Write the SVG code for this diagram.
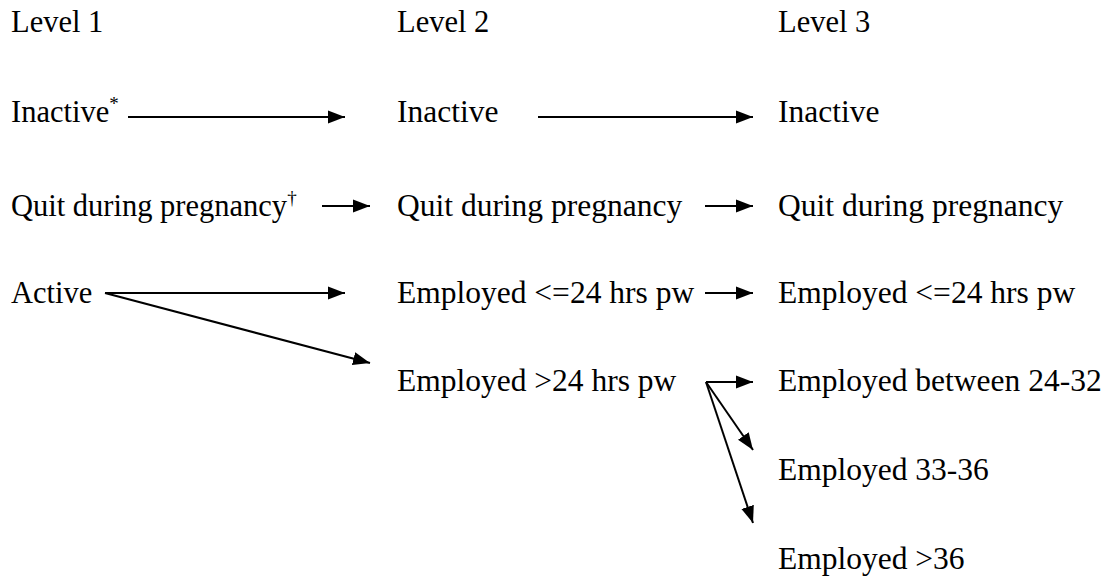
<svg xmlns="http://www.w3.org/2000/svg" width="1113" height="582" viewBox="0 0 1113 582">
<style>
text{font-family:"Liberation Serif","Times New Roman",serif;font-size:30.5px;fill:#000}
.r{font-size:31.5px}
.sup{font-size:19px}
.c{stroke:#000;stroke-width:2;fill:none}
</style>
<defs>
<marker id="ah" markerUnits="userSpaceOnUse" markerWidth="18" markerHeight="14" refX="17" refY="7" orient="auto">
<path d="M0,0.5 L17,7 L0,13.5 z" fill="#000"/>
</marker>
</defs>
<rect width="1113" height="582" fill="#fff"/>
<g id="headers">
<text x="11" y="32">Level 1</text>
<text x="397" y="32">Level 2</text>
<text x="778" y="32">Level 3</text>
</g>
<g id="l1-inactive"><text x="11" y="122">Inactive<tspan class="sup" dy="-12">*</tspan></text></g>
<g id="l1-quit"><text x="11" y="216">Quit during pregnancy<tspan class="sup" dy="-12">†</tspan></text></g>
<g id="l1-active"><text x="11" y="303">Active</text></g>
<g id="l2-inactive"><text class="r" x="397" y="122">Inactive</text></g>
<g id="l2-quit"><text class="r" x="397" y="216">Quit during pregnancy</text></g>
<g id="l2-le24"><text class="r" x="397" y="303">Employed &lt;=24 hrs pw</text></g>
<g id="l2-gt24"><text class="r" x="397" y="391">Employed &gt;24 hrs pw</text></g>
<g id="l3-inactive"><text class="r" x="778" y="122">Inactive</text></g>
<g id="l3-quit"><text class="r" x="778" y="216">Quit during pregnancy</text></g>
<g id="l3-le24"><text class="r" x="778" y="303">Employed &lt;=24 hrs pw</text></g>
<g id="l3-24-32"><text class="r" x="778" y="391">Employed between 24-32</text></g>
<g id="l3-33-36"><text class="r" x="778" y="480">Employed 33-36</text></g>
<g id="l3-gt36"><text class="r" x="778" y="569">Employed &gt;36</text></g>
<g id="connectors">
<line class="c" x1="128" y1="117" x2="345" y2="117" marker-end="url(#ah)"/>
<line class="c" x1="322" y1="206" x2="370" y2="206" marker-end="url(#ah)"/>
<line class="c" x1="105" y1="293" x2="345" y2="293" marker-end="url(#ah)"/>
<line class="c" x1="105" y1="293" x2="370" y2="363" marker-end="url(#ah)"/>
<line class="c" x1="538" y1="117" x2="753" y2="117" marker-end="url(#ah)"/>
<line class="c" x1="705" y1="206" x2="753" y2="206" marker-end="url(#ah)"/>
<line class="c" x1="705" y1="293" x2="753" y2="293" marker-end="url(#ah)"/>
<line class="c" x1="706" y1="382" x2="753" y2="382" marker-end="url(#ah)"/>
<line class="c" x1="706" y1="382" x2="753" y2="450" marker-end="url(#ah)"/>
<line class="c" x1="706" y1="382" x2="753" y2="523" marker-end="url(#ah)"/>
</g>
</svg>
